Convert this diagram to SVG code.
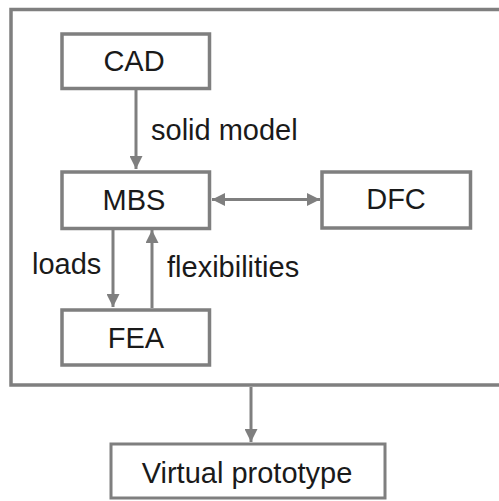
<svg xmlns="http://www.w3.org/2000/svg" width="499" height="501" viewBox="0 0 499 501">
<style>
.box{fill:#fff;stroke:#7f7f7f;stroke-width:3.5}
.frame{fill:none;stroke:#7f7f7f;stroke-width:3.5}
.t{font-family:"Liberation Sans",Arial,sans-serif;font-size:29px;fill:#1a1a1a}
.c{text-anchor:middle}
.ln{stroke:#7f7f7f;stroke-width:3;fill:none}
</style>
<defs>
<marker id="ah" viewBox="0 0 13 13" refX="13" refY="6.5" markerWidth="13" markerHeight="13" markerUnits="userSpaceOnUse" orient="auto-start-reverse">
<path d="M0,0 L13,6.5 L0,13 z" fill="#7f7f7f"/>
</marker>
</defs>
<rect class="frame" x="11" y="9.5" width="520" height="375.5"/>
<g id="connectors">
<line class="ln" x1="136" y1="89" x2="136" y2="169" marker-end="url(#ah)"/>
<line class="ln" x1="212" y1="199.5" x2="320" y2="199.5" marker-start="url(#ah)" marker-end="url(#ah)"/>
<line class="ln" x1="113" y1="229" x2="113" y2="307" marker-end="url(#ah)"/>
<line class="ln" x1="152" y1="308" x2="152" y2="230" marker-end="url(#ah)"/>
<line class="ln" x1="251" y1="387" x2="251" y2="442" marker-end="url(#ah)"/>
<text class="t" x="151" y="140">solid model</text>
<text class="t" x="32" y="274">loads</text>
<text class="t" x="167" y="277">flexibilities</text>
</g>
<g id="cad">
<rect class="box" x="62" y="34" width="147.5" height="54.5"/>
<text class="t c" x="134" y="71">CAD</text>
</g>
<g id="mbs">
<rect class="box" x="62" y="172" width="147.5" height="56.5"/>
<text class="t c" x="134" y="210">MBS</text>
</g>
<g id="dfc">
<rect class="box" x="322" y="172" width="148.5" height="56"/>
<text class="t c" x="396" y="209">DFC</text>
</g>
<g id="fea">
<rect class="box" x="62" y="310" width="147.5" height="55"/>
<text class="t c" x="136" y="348">FEA</text>
</g>
<g id="vp">
<rect class="box" x="111" y="444" width="274" height="54" style="stroke-width:3"/>
<text class="t c" x="247" y="483">Virtual prototype</text>
</g>
</svg>
